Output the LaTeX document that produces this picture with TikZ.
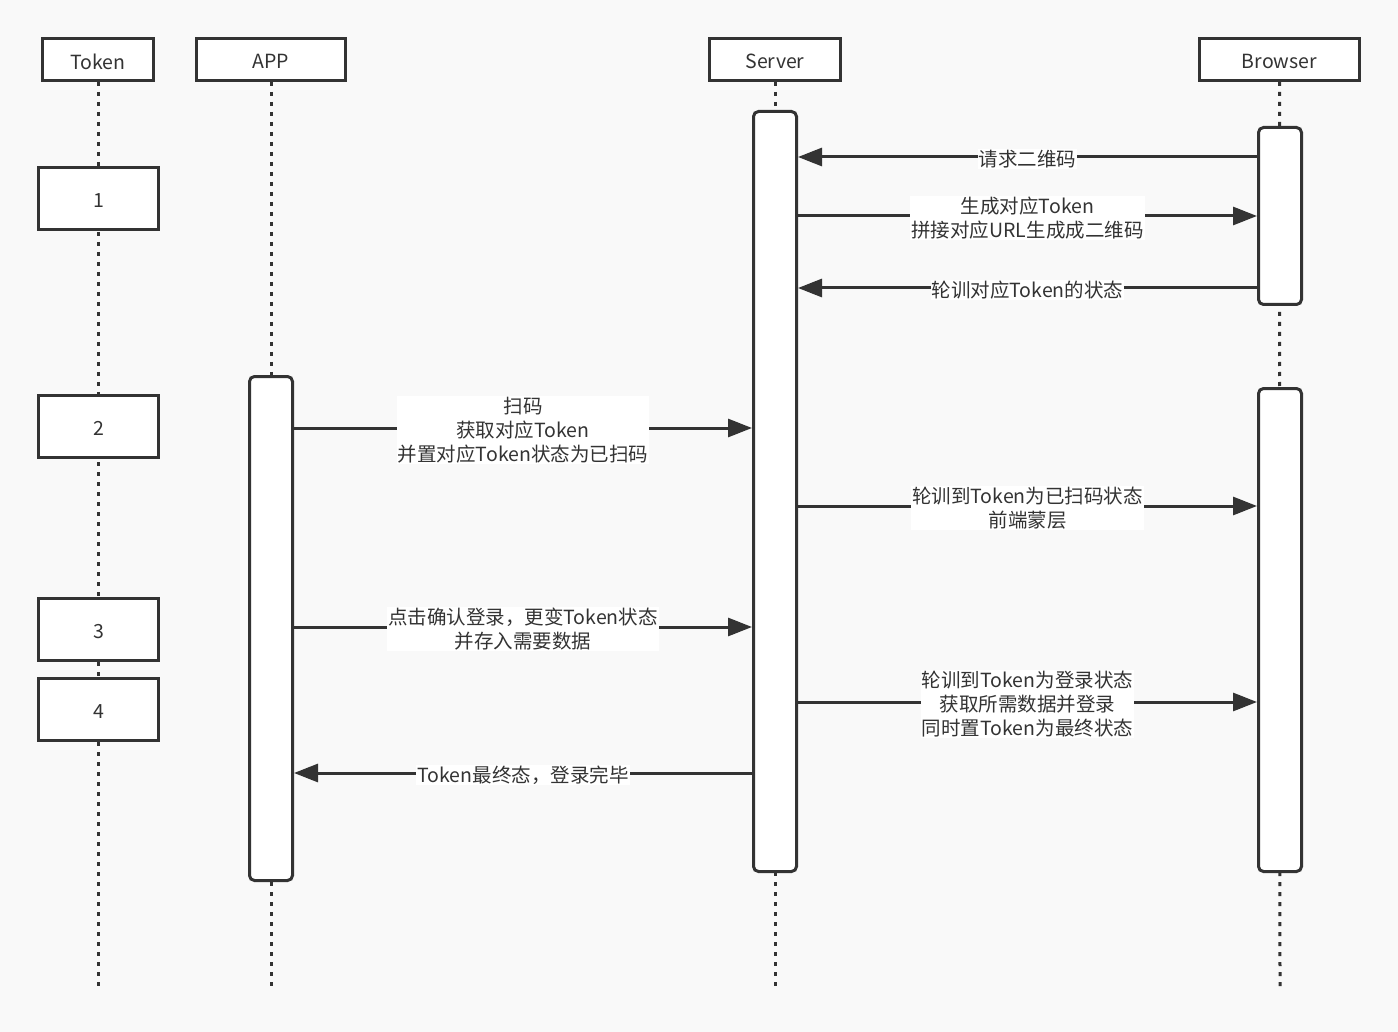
\documentclass[tikz,border=0pt]{standalone}
\usepackage{fontspec}
\setmainfont{Noto Sans CJK SC}
\usetikzlibrary{arrows.meta}
\definecolor{ink}{HTML}{333333}
\definecolor{bgc}{HTML}{F9F9F9}
\newcommand{\lowtxt}[1]{\raisebox{-2pt}[\height][\depth]{#1}}
\begin{document}
\begin{tikzpicture}[x=1pt,y=-1pt,
  every node/.style={font=\fontsize{19.5}{24}\selectfont, text=ink},
  head/.style={draw=ink, line width=3pt, fill=white, minimum height=42pt, inner sep=0pt},
  tbox/.style={draw=ink, line width=3pt, fill=white, minimum width=120pt, minimum height=62pt, inner sep=0pt},
  act/.style={draw=ink, line width=3pt, fill=white, rounded corners=5pt, minimum width=43pt, inner sep=0pt},
  life/.style={draw=ink, line width=3pt, dash pattern=on 4pt off 6pt},
  msg/.style={draw=ink, line width=3pt, -{Triangle[length=24pt,width=18pt]}},
  lbl/.style={fill=white, inner sep=1pt, align=center, yshift=-2pt}]
\fill[bgc] (0,0) rectangle (1398,1032);
\useasboundingbox (0,0) rectangle (1398,1032);
% headers
\node[head, minimum width=111pt] (tok) at (98,59.5) {\lowtxt{Token}};
\node[head, minimum width=149pt] (app) at (271,59.5) {\lowtxt{APP}};
\node[head, minimum width=131pt] (srv) at (775,59.5) {\lowtxt{Server}};
\node[head, minimum width=160pt] (brw) at (1279.5,59.5) {\lowtxt{Browser}};
% lifeline ends
\coordinate (tokEnd) at (98,990);
\coordinate (appEnd) at (271,990);
\coordinate (srvEnd) at (775,990);
\coordinate (brwEnd) at (1280,990);
\draw[life] (tok.south) -- (tokEnd);
\draw[life] (app.south) -- (appEnd);
\draw[life] (srv.south) -- (srvEnd);
\draw[life] (brw.south) -- (brwEnd);
% token states
\node[tbox] (t1) at (98.5,198.5) {\lowtxt{1}};
\node[tbox] (t2) at (98.5,426.5) {\lowtxt{2}};
\node[tbox] (t3) at (98.5,629.5) {\lowtxt{3}};
\node[tbox] (t4) at (98.5,709.5) {\lowtxt{4}};
% activation bars
\node[act, minimum height=504pt] (appA) at (271,628.5) {};
\node[act, minimum height=760pt] (srvA) at (775,491.5) {};
\node[act, minimum height=177pt] (brA) at (1280,216) {};
\node[act, minimum height=483pt] (brB) at (1280,630) {};
% messages
\draw[msg] (brA.west |- 0,157) -- (srvA.east |- 0,157)
  node[midway,lbl] {请求二维码};
\draw[msg] (srvA.east |- 0,216) -- (brA.west |- 0,216)
  node[midway,lbl] {生成对应Token\\拼接对应URL生成成二维码};
\draw[msg] (brA.west |- 0,288) -- (srvA.east |- 0,288)
  node[midway,lbl] {轮训对应Token的状态};
\draw[msg] (appA.east |- 0,428) -- (srvA.west |- 0,428)
  node[midway,lbl] {扫码\\获取对应Token\\并置对应Token状态为已扫码};
\draw[msg] (srvA.east |- 0,506) -- (brB.west |- 0,506)
  node[midway,lbl] {轮训到Token为已扫码状态\\前端蒙层};
\draw[msg] (appA.east |- 0,627) -- (srvA.west |- 0,627)
  node[midway,lbl] {点击确认登录，更变Token状态\\并存入需要数据};
\draw[msg] (srvA.east |- 0,702) -- (brB.west |- 0,702)
  node[midway,lbl] {轮训到Token为登录状态\\获取所需数据并登录\\同时置Token为最终状态};
\draw[msg] (srvA.west |- 0,773) -- (appA.east |- 0,773)
  node[midway,lbl] {Token最终态，登录完毕};
\end{tikzpicture}
\end{document}
